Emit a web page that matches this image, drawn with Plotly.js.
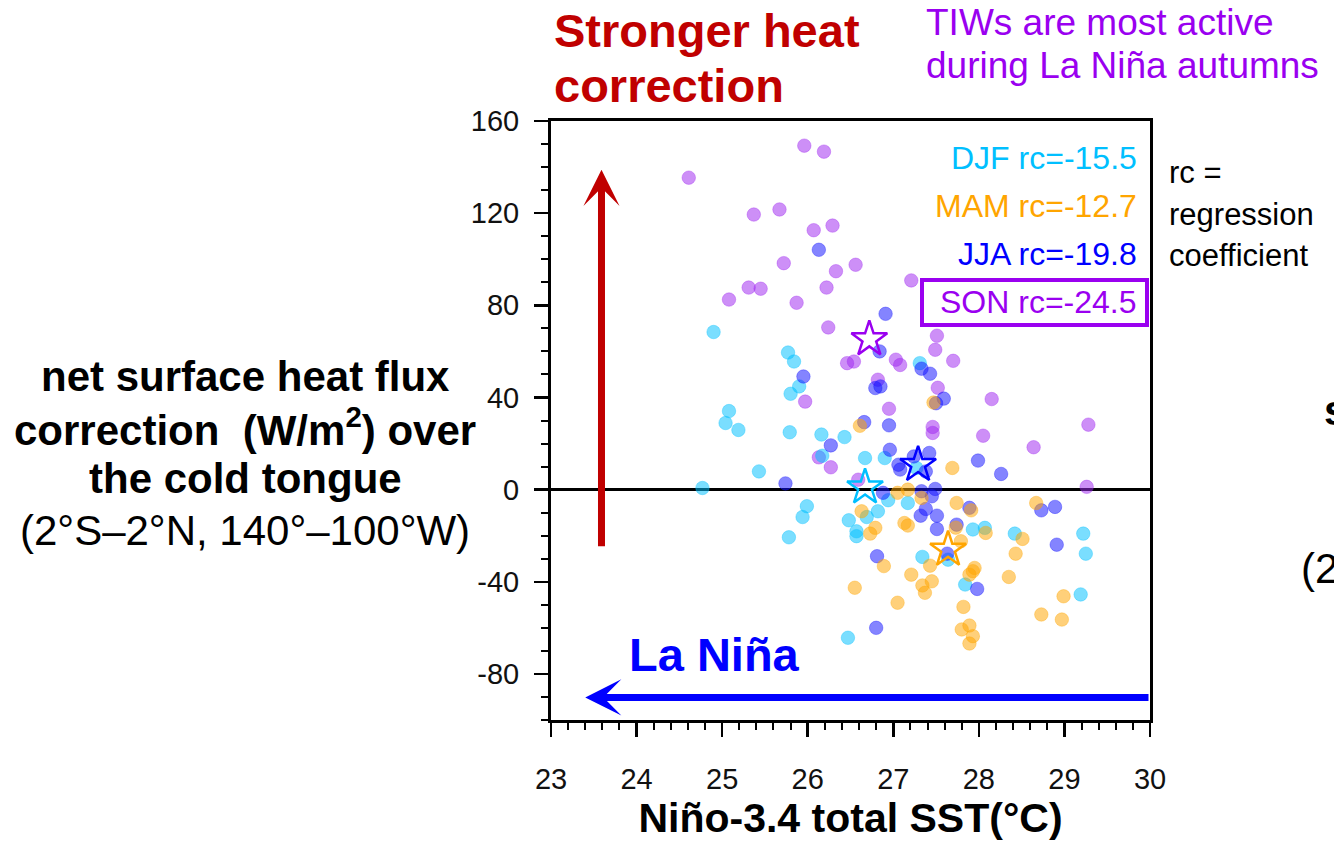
<!DOCTYPE html>
<html><head><meta charset="utf-8">
<script src="https://cdn.plot.ly/plotly-3.0.1.min.js"></script>
<style>html,body{margin:0;padding:0;background:#fff;}#chart{width:1334px;height:848px;}</style>
</head><body><div id="chart"></div>
<script>
// ---- data ----
const seasons = ['DJF', 'MAM', 'JJA', 'SON'];
const rcValues = [-15.5, -12.7, -19.8, -24.5];

const djfX = [24.90,25.77,25.84,25.90,25.80,25.08,25.04,25.19,25.79,26.16,26.43,26.17,25.43,24.77,27.31,26.67,26.90,27.27,25.99,25.94,25.78,26.48,26.57,26.57,26.47,26.94,27.17,26.82,26.69,27.93,28.07,27.64,27.34,27.84,28.42,29.22,29.25,29.19];
const djfY = [68.4,59.5,55.6,44.8,41.6,34.1,28.9,25.9,24.9,23.9,22.8,14.7,7.9,0.7,54.9,13.7,13.7,9.4,-7.2,-11.9,-20.7,-13.3,-18.1,-20.2,-64.3,-4.6,-5.8,-9.4,-11.9,-17.3,-16.6,-30.4,-29.2,-41.2,-19.1,-19.1,-27.8,-45.5];

const mamX = [26.61,27.47,27.69,27.05,27.17,27.33,26.63,26.79,26.73,27.13,27.17,27.74,27.91,27.73,28.08,27.79,26.89,27.43,27.21,26.55,27.05,27.34,27.37,27.45,27.89,27.95,27.93,27.82,27.80,27.89,27.93,27.89,28.43,28.51,28.35,28.67,28.99,28.73,28.97];
const mamY = [27.7,37.8,9.4,-1.4,0.0,-3.6,-9.4,-16.6,-19.1,-14.5,-15.6,-5.8,-9.0,-16.5,-18.8,-22.4,-33.2,-33.0,-36.9,-42.6,-49.1,-41.6,-44.8,-39.8,-36.9,-34.0,-35.4,-50.9,-60.7,-59.0,-63.6,-66.8,-27.8,-21.4,-37.9,-5.8,-46.3,-54.2,-56.4];

const jjaX = [26.13,25.95,26.27,25.74,26.66,26.91,26.84,27.33,27.43,26.79,26.85,27.59,27.50,26.95,26.96,27.99,28.26,27.42,27.24,27.06,27.08,27.38,26.88,27.33,27.49,27.45,27.32,27.38,27.51,27.51,27.89,27.74,27.63,26.81,27.98,26.80,28.73,28.89,28.91];
const jjaY = [104.1,49.1,19.2,2.7,29.3,76.3,60.0,52.5,50.3,44.1,44.8,39.5,37.5,27.9,17.3,12.6,6.8,15.9,14.4,10.8,8.7,7.9,-1.4,-0.7,0.3,-2.9,-11.3,-8.4,-11.3,-17.1,-7.9,-15.2,-27.8,-28.9,-43.1,-60.0,-9.0,-7.5,-23.9];

const sonX = [25.96,26.19,24.61,25.37,25.67,26.07,26.29,25.72,26.33,26.56,26.22,25.31,25.45,25.08,25.87,26.24,26.46,26.54,25.97,26.13,26.27,27.21,27.03,27.08,27.51,27.49,27.70,26.82,27.52,28.15,26.95,27.46,27.46,28.05,29.28,28.64,26.59,29.26];
const sonY = [149.3,146.7,135.4,119.4,121.6,112.6,114.6,98.3,94.8,97.6,87.7,87.7,87.2,82.5,81.1,70.4,54.9,55.6,38.2,14.0,9.7,90.8,56.4,54.1,66.8,60.7,55.9,47.7,44.2,39.3,35.1,27.2,24.6,23.4,28.2,18.4,4.3,1.2];

// seasonal means (open stars), order as seasons
const meanX = [26.67, 27.64, 27.29, 26.72];
const meanY = [1.0, -26.0, 10.8, 65.3];

const xTicks = [23, 24, 25, 26, 27, 28, 29, 30];
const yTicks = [-80, -40, 0, 40, 80, 120, 160];

// ---- styles ----
const FONT = 'Liberation Sans, Arial, Helvetica, sans-serif';
const lineColors = {DJF: '#00BFFF', MAM: '#FFA500', JJA: '#0000FF', SON: '#9A00F0'};
const dotFill = {DJF: 'rgba(0,191,255,0.52)', MAM: 'rgba(255,165,0,0.52)', JJA: 'rgba(20,20,255,0.52)', SON: 'rgba(160,40,240,0.52)'};
const dotLine = {DJF: 'rgba(0,191,255,0.35)', MAM: 'rgba(255,165,0,0.35)', JJA: 'rgba(20,20,255,0.35)', SON: 'rgba(160,40,240,0.35)'};

const seriesX = {DJF: djfX, MAM: mamX, JJA: jjaX, SON: sonX};
const seriesY = {DJF: djfY, MAM: mamY, JJA: jjaY, SON: sonY};

const traces = [];
['SON', 'DJF', 'JJA', 'MAM'].forEach(s => {
  traces.push({
    type: 'scatter', mode: 'markers', name: s,
    x: seriesX[s], y: seriesY[s],
    marker: {size: 13.5, color: dotFill[s], line: {color: dotLine[s], width: 1}},
    hoverinfo: 'x+y+name'
  });
});
seasons.forEach((s, i) => {
  traces.push({
    type: 'scatter', mode: 'markers', name: s + ' mean',
    x: [meanX[i]], y: [meanY[i]],
    marker: {symbol: 'star-open', size: 27, color: lineColors[s], line: {width: 2.5, color: lineColors[s]}}
  });
});

// pixel -> paper helpers for free text placement (plot area 551..1150 x 121..720)
const L = 551, T = 121, W = 599, H = 599;
const px = v => (v - L) / W;
const py = v => (T + H - v) / H;

const annotations = [];
function txt(text, x, y, xanchor, size, color, bold) {
  annotations.push({
    xref: 'paper', yref: 'paper', x: px(x), y: py(y), xanchor: xanchor, yanchor: 'middle',
    text: bold ? '<b>' + text + '</b>' : text, showarrow: false, borderpad: 0,
    font: {family: FONT, size: size, color: color}
  });
}
// top texts
txt('Stronger heat', 553, 31, 'left', 47, '#C00000', true);
txt('correction', 553, 85, 'left', 47, '#C00000', true);
txt('TIWs are most active', 925, 22, 'left', 37, '#9A00F0', false);
txt('during La Niña autumns', 925, 66, 'left', 37, '#9A00F0', false);
// y-axis title (horizontal, multi-line)
txt('net surface heat flux', 245, 376, 'center', 42, '#000', true);
txt('correction  (W/m<sup>2</sup>) over', 245, 427, 'center', 42, '#000', true);
txt('the cold tongue', 245, 478, 'center', 42, '#000', true);
txt('(2°S–2°N, 140°–100°W)', 245, 530, 'center', 42, '#000', false);
// legend of regression coefficients
const legY = [158, 206, 254, 302];
seasons.forEach((s, i) => {
  txt(s + ' rc=' + rcValues[i].toFixed(1), 1138, legY[i], 'right', 32, lineColors[s], false);
});
// rc explanation
txt('rc =', 1168, 172, 'left', 31, '#000', false);
txt('regression', 1168, 214, 'left', 31, '#000', false);
txt('coefficient', 1168, 255, 'left', 31, '#000', false);
// fragments of the neighbouring panel at the right edge
txt('s', 1323, 410, 'left', 42, '#000', true);
txt('(2', 1300, 568, 'left', 42, '#000', false);
// La Niña label
txt('La Niña', 628, 654, 'left', 47, '#0000FF', true);

// arrows
annotations.push({
  xref: 'x', yref: 'y', axref: 'x', ayref: 'y',
  x: 23.59, y: 138.8, ax: 23.59, ay: -25.2,
  text: '', showarrow: true, arrowhead: 3, arrowsize: 0.86, arrowwidth: 7, arrowcolor: '#C00000', standoff: 0
});
annotations.push({
  xref: 'x', yref: 'y', axref: 'x', ayref: 'y',
  x: 23.40, y: -90.2, ax: 30.0, ay: -90.2,
  text: '', showarrow: true, arrowhead: 3, arrowsize: 0.86, arrowwidth: 7, arrowcolor: '#0000FF', standoff: 0
});

const shapes = [{
  type: 'rect', xref: 'paper', yref: 'paper',
  x0: px(922), x1: px(1147), y0: py(325), y1: py(280),
  line: {color: '#9A00F0', width: 4}, fillcolor: 'rgba(0,0,0,0)'
}];

const axisCommon = {
  showline: true, linecolor: '#000', linewidth: 3, mirror: true,
  ticks: 'outside', ticklen: 14, tickwidth: 2.5, tickcolor: '#000',
  showgrid: false, tickfont: {family: FONT, size: 29, color: '#111'}
};

const layout = {
  width: 1334, height: 848,
  margin: {l: L, r: 1334 - L - W, t: T, b: 848 - T - H, pad: 0},
  paper_bgcolor: '#fff', plot_bgcolor: '#fff',
  showlegend: false,
  font: {family: FONT},
  xaxis: Object.assign({}, axisCommon, {
    range: [23, 30], tickmode: 'array', tickvals: xTicks, ticktext: xTicks.map(String),
    zeroline: false, ticklabelstandoff: 17,
    minor: {dtick: 0.2, tick0: 23, ticks: 'outside', ticklen: 7, tickwidth: 2, tickcolor: '#000', showgrid: false},
    title: {text: '<b>Niño-3.4 total SST(°C)</b>', font: {family: FONT, size: 41, color: '#000'}, standoff: 8}
  }),
  yaxis: Object.assign({}, axisCommon, {
    range: [-100, 160], tickmode: 'array', tickvals: yTicks, ticktext: yTicks.map(String),
    zeroline: true, zerolinecolor: '#000', zerolinewidth: 2.5, ticklabelstandoff: 9,
    minor: {dtick: 10, tick0: 0, ticks: 'outside', ticklen: 7, tickwidth: 2, tickcolor: '#000', showgrid: false}
  }),
  annotations: annotations,
  shapes: shapes
};

Plotly.newPlot('chart', traces, layout, {displayModeBar: false, staticPlot: true});
</script></body></html>
